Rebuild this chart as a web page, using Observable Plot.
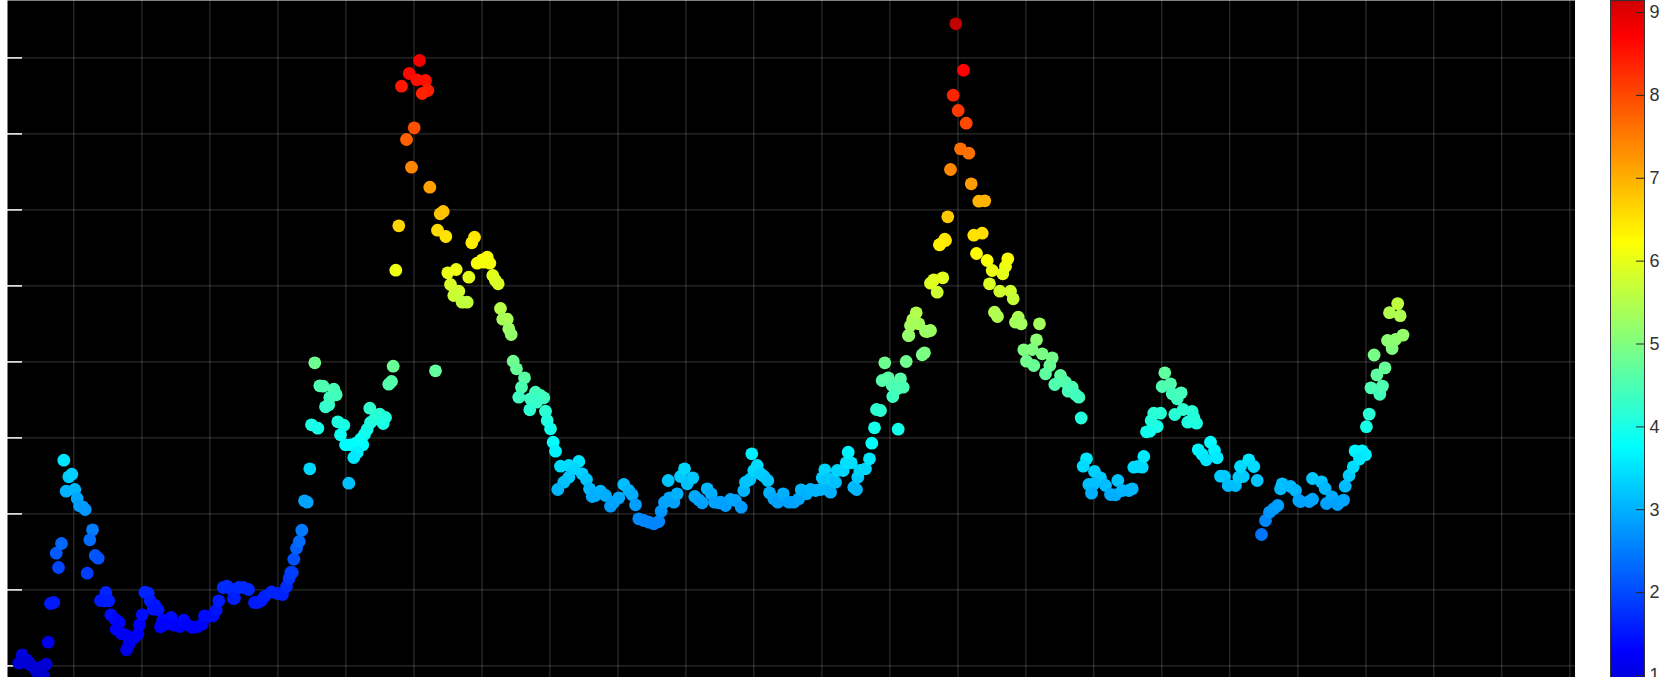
<!DOCTYPE html>
<html>
<head>
<meta charset="utf-8">
<script src="https://cdn.jsdelivr.net/npm/d3@7"></script>
<script src="https://cdn.jsdelivr.net/npm/@observablehq/plot@0.6"></script>
<style>
html,body{margin:0;padding:0;background:#fff;overflow:hidden}
#chart{display:flex;width:1673px;height:677px}
svg{display:block}
</style>
</head>
<body>
<div id="chart"></div>
<script>
// Values: [position along x, level]
const startCluster = [[21.7,22.7],[18.3,14.3],[26.7,17.3],[25,15],[30,12.7],[33.3,10],[36,6],[40,3.3],[43.3,1.3],[39.3,10],[45.7,13.3],[47.7,35.3],[50,74],[53.3,75],[58,110],[55.7,124.3],[61,134]];
const firstBump = [[63.3,217.3],[68.3,200.7],[71.3,203.3],[65.7,186.3],[74.3,188],[76.7,179],[79,171.7],[82,170.7],[84.7,168],[92,147.7],[89.3,137.7],[94.7,122],[97.7,119.3],[86.7,104.3],[105.3,85],[100,77],[104,76.7],[108.3,76.7],[110.3,62.7],[114.7,58.3],[118.7,55],[115.7,48.3],[120.7,44],[125,42.7],[126,27.7],[128.3,32.7],[130.7,37.7],[134,40],[137.3,43.3],[139,52.7],[141.7,62.7]];
const lowPlateau = [[144.3,85.3],[147.7,84.3],[149.7,76.7],[154.3,72.3],[152.7,68.3],[157.7,67.7],[162.3,57.3],[160,50.7],[170.7,60],[165,53.3],[173.3,52.3],[179,51],[183.3,57.3],[186.7,52.7],[191.7,50],[196.7,50.7],[201.7,53.3],[204,61.7],[208.3,61],[212.7,61.7],[215.7,67.3],[218.3,76.7],[222.7,90],[226.7,91.3],[230.7,88.3],[233,79],[234,79.3],[238.3,90],[242.9,90],[248,88],[254,75],[257,75],[261,77],[264,81],[271,85.5],[277,84],[282,83],[286,91],[288.6,99],[291.8,105]];
const firstRise = [[290.3,105],[293.3,118.3],[296,129.3],[298.7,136],[301.3,147.3],[304,176.7],[306.7,175.3],[309.3,208.7],[348.3,194.3],[311,252.7],[317.3,249.3],[325,270.7],[328.3,272.7],[329.3,280],[333.3,288.3],[335.7,282.7],[319.3,291.7],[322.7,291.3],[314.3,314.7],[337.3,255.7],[343.3,252.3],[340,242.7],[345,232.7],[350,232.7],[355,234],[362.3,232.7],[356.7,225],[353.3,220],[360,238.3],[364,243.3],[366.7,248.3],[370,255],[374,258.3],[369.3,269.3],[379.3,263.3],[385,260],[382.7,254],[388.3,293.3],[391,296],[392.7,311.3],[435,306.7]];
const firstPeak = [[419,617],[408.7,604],[416.3,597.7],[425,597],[401,591.3],[427.3,587],[421.7,584],[413.7,549.7],[406,538],[411,510.3],[429.3,490.3],[442.7,466],[439.7,463.7],[398.3,451.7],[437,447.3],[445.3,441],[474,440.3],[471.3,434.7],[395.3,407.3],[486.7,420.3],[481.7,417.7],[476.7,414.3],[489.3,414.3],[483.3,415.3],[455.7,408],[447.3,404.7],[468.3,400.3],[492.3,402]];
const firstFall = [[495,397],[497.7,393.7],[450,393],[458.3,386.3],[455,386.3],[453.3,382],[461.7,375.3],[466.7,375.3],[500,369],[502.3,358.3],[506.7,358.3],[508.3,348.7],[510.7,343],[512.7,316.3],[516,308.7],[524,299.7],[521,290.3],[518.3,280.3],[535,285.3],[540,282],[543.3,279.7],[530,278.7],[536,275.3],[529.3,267.7],[545,266.3],[546.7,257],[550,248.7],[552.7,235.3],[555,226.3]];
const middleBand = [[560,211.3],[568.3,212],[578.3,216],[573.3,208.7],[568.3,200.3],[563.3,195.3],[557.3,188],[581.7,203.7],[586,198],[589,188.7],[591.7,181],[595,182],[600,186.3],[605,182],[610,171.3],[613.3,175.3],[618.3,179.7],[623.3,193],[628.3,187],[631.7,182.7],[635,172.7],[638.3,158.7],[643.3,157],[648.3,155.3],[653.3,153.7],[658.3,156],[660.7,166.3],[664,175.3],[669,179.7],[673.3,175.3],[676.7,183.7],[667.7,197],[680,201],[684,208.7],[686.7,193.7],[692.3,199.7],[694.3,181],[698.3,177.7],[701.7,174.7],[706.7,188.7],[710.7,183.7],[714,175.3],[718.3,174.7],[720,175.3],[725,172],[730,178],[735,177],[740.7,170.3],[743.3,187],[745,195.3],[749.3,198],[753.3,207],[756.7,212],[751.3,223.7],[760,203.7],[763.3,201.3],[767.3,197],[769,184.7],[773.3,178.7],[777.3,175.3],[782.7,183.7],[788.3,175.3],[793.3,175.3],[798.3,178.7],[800.7,187.7],[806,183.7],[810,188],[815,187],[820,188],[825,188.7],[830,185.3],[821.7,199.7],[824.3,207.7],[828.3,198.7],[835,195.3],[836.7,207],[842.7,207],[845.7,214.7],[850.7,214.7],[847.7,225.3]];
const secondRise = [[853.3,190.3],[856,188],[857.3,200.3],[859.3,207],[865,208.7],[869,218.7],[871.3,234.3],[874,249.7],[897.7,248.3],[876,268],[880,267],[881.7,297],[887.7,299.7],[884.3,314.7],[905.7,316],[891.7,292],[900,298.7],[902.7,290.3],[896.7,288.7],[892.3,281],[921.7,322.7],[924,324.7],[908.3,342],[908,342],[926.7,346],[930,347],[925,346.3],[910,352],[912.3,358],[918.3,353.7],[915.7,364.7],[936.7,385.3],[930,394.3],[933.3,397.7],[942.3,399.7],[939.3,433],[945,437]];
const secondPeak = [[955.3,653.7],[963,607.3],[952.7,582.3],[957.7,567],[965.7,554.3],[960,528.7],[968.3,524.3],[950,508],[970.7,493.7],[978.3,476.3],[984.3,476.7],[947.3,460.7],[981.7,444.3],[973.3,442.3],[944.3,438.3],[939,432.7]];
const secondFall = [[976,424],[986.7,417],[1007.3,418.7],[1005,411],[991.7,407],[1002.3,403.7],[989,393.7],[999.3,386.3],[1010,386.3],[1012.7,378.7],[994,365.3],[997,361],[1017.7,360.3],[1015,355.3],[1020.7,353.7],[1039,353.7],[1036,337.7],[1023.3,327.7],[1031.7,328],[1041.7,323.7],[1051.7,319.7],[1026,316.3],[1033.3,312],[1049.3,312],[1045,303.7],[1060,302],[1054.3,293],[1065,295.3],[1071.7,290.3],[1067.7,286.3],[1075,283],[1078.3,280.3],[1080.7,259.5]];
const lateBumps = [[1086,218.7],[1082.7,211.3],[1094,206],[1100,199.7],[1088.3,193],[1093.3,193.7],[1091,184.3],[1105,192],[1110,183],[1115,182.7],[1117.3,197],[1121.7,187],[1128.3,187],[1131.7,188.7],[1133.3,210.3],[1137.3,211],[1141.7,210.3],[1143.3,221],[1146,245.7],[1149.3,246.3],[1156.7,251],[1150.7,257],[1153.3,264.3],[1160,264.3],[1161.7,291],[1164.3,304.7],[1170,293.7],[1171.7,283.7],[1176.7,278.7],[1180.7,284.7],[1174.3,263],[1182.7,268],[1187.3,255.3],[1191.7,266],[1196,254.3],[1193.3,260],[1197.7,227.7],[1201.7,223],[1205.7,217.7],[1210,235.3],[1214,227],[1216.7,219.7],[1220,201.3],[1224,201],[1227.7,192],[1235,192],[1238.3,200.3],[1242.7,201],[1240,211],[1248.3,217.7],[1253.3,211],[1256.7,197],[1261,143],[1265,157],[1269,165.3],[1273.3,168.7],[1277.3,172],[1280,188.7],[1281.7,193.7],[1290,191],[1295,187],[1298.3,177],[1300,176],[1308.7,176],[1312,178.3],[1312,199],[1321,195.6],[1324.6,189],[1326,174],[1331.6,180.5],[1337,173],[1343,177.4]];
const lastRise = [[1344.7,191.3],[1348.6,202],[1352.8,210.7],[1354.6,226.6],[1361.6,226.6],[1365,222.8],[1359,218.5],[1365.9,250.8],[1368.7,263.4],[1370.4,289.7],[1379.3,283.2],[1382,291.4],[1376.4,302.6],[1384.5,309.6],[1373.6,322.5],[1391.6,329],[1387,337],[1395,338],[1402.5,342.4],[1389,364.8],[1399.7,361.8],[1397.2,373.9]];

const xGrid = [73.3,141.4,209.4,277.4,345.4,413.5,481.5,549.4,617.5,685.4,753.3,821.4,889.4,957.5,1025.4,1093.3,1161.3,1229.3,1297.4,1365.5,1433.3,1501.3,1569.4];
const yGrid = [11.6,87.6,163.6,239.6,315.6,391.6,467.6,543.6,619.6];
const barTicks = [1,2,3,4,5,6,7,8,9];
const jetStops = [0.05,1.285,3.755,6.225,8.695,9.93];
const jetColors = ["#000080","#0000ff","#00ffff","#ffff00","#ff0000","#800000"];
const levelStops = [0,90,180,232,607,654];
const colorbarStops = [0.75,1.68,2.93,3.73,8.68,9.3];
const barSlices = d3.range(0.96,9.16,0.01);

const points = [startCluster,firstBump,lowPlateau,firstRise,firstPeak,firstFall,middleBand,secondRise,secondPeak,secondFall,lateBumps,lastRise].flat();
const colorValue = d3.scaleLinear(levelStops,colorbarStops);
const colorOptions = {type:"linear",domain:jetStops,range:jetColors,interpolate:"rgb",clamp:true};

const main = Plot.plot({
  width:1575,height:677,
  marginLeft:7,marginRight:0,marginTop:0,marginBottom:0,
  style:{background:"white"},
  x:{domain:[7,1575],axis:null},
  y:{domain:[0,677],axis:null},
  color:colorOptions,
  marks:[
    Plot.frame({fill:"black"}),
    Plot.ruleX(xGrid,{stroke:"#fff",strokeOpacity:0.21,strokeWidth:1}),
    Plot.ruleY(yGrid,{stroke:"#fff",strokeOpacity:0.21,strokeWidth:1}),
    Plot.tickY(yGrid,{stroke:"#fff",strokeWidth:1.5,insetRight:1553}),
    Plot.dot(points,{x:d=>d[0],y:d=>d[1],r:6.4,fill:d=>colorValue(d[1]),stroke:"none"})
  ]
});

const bar = Plot.plot({
  width:98,height:677,
  marginLeft:35,marginRight:29,marginTop:0,marginBottom:0,
  style:{background:"white",fontFamily:"'Liberation Sans',Arial,sans-serif",fontSize:"18px",color:"#333"},
  x:{domain:[0,1],axis:null},
  y:{domain:[0.976,9.145],axis:null},
  color:colorOptions,
  marks:[
    Plot.rect(barSlices,{x1:0,x2:1,y1:d=>d,y2:d=>d+0.012,fill:d=>d,shapeRendering:"crispEdges"}),
    Plot.frame({stroke:"#333",strokeWidth:1}),
    Plot.tickY(barTicks,{stroke:"#262626",strokeWidth:1,insetLeft:26}),
    Plot.axisY(barTicks,{anchor:"right",tickSize:0,tickPadding:5,label:null,tickFormat:"d",fontSize:18,fill:"#333"})
  ]
});

const host = document.getElementById("chart");
host.append(main,bar);
</script>
</body>
</html>
